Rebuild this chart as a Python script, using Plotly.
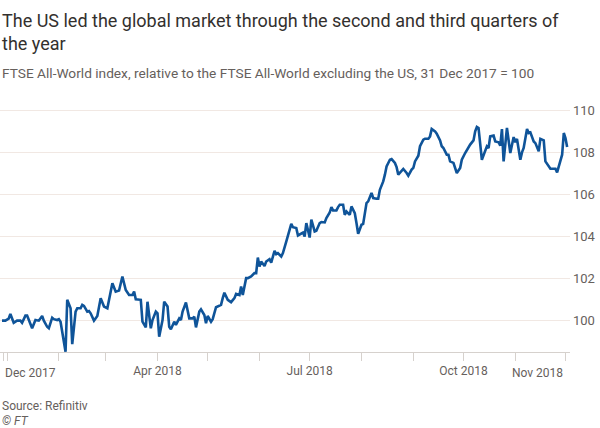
import plotly.graph_objects as go

dates = [
    "2017-12-29", "2017-12-31", "2018-01-02", "2018-01-03", "2018-01-05", "2018-01-07",
    "2018-01-09", "2018-01-10", "2018-01-12", "2018-01-13", "2018-01-15", "2018-01-16",
    "2018-01-18", "2018-01-19", "2018-01-20", "2018-01-22", "2018-01-23", "2018-01-25",
    "2018-01-26", "2018-01-28", "2018-01-29", "2018-01-31", "2018-02-01", "2018-02-02",
    "2018-02-05", "2018-02-06", "2018-02-08", "2018-02-09", "2018-02-11", "2018-02-12",
    "2018-02-14", "2018-02-15", "2018-02-16", "2018-02-18", "2018-02-19", "2018-02-20",
    "2018-02-22", "2018-02-24", "2018-02-26", "2018-02-28", "2018-03-02", "2018-03-05",
    "2018-03-07", "2018-03-09", "2018-03-11", "2018-03-13", "2018-03-15", "2018-03-17",
    "2018-03-18", "2018-03-19", "2018-03-21", "2018-03-22", "2018-03-23", "2018-03-25",
    "2018-03-26", "2018-03-28", "2018-03-29", "2018-03-31", "2018-04-01", "2018-04-02",
    "2018-04-04", "2018-04-05", "2018-04-07", "2018-04-08", "2018-04-09", "2018-04-11",
    "2018-04-12", "2018-04-14", "2018-04-15", "2018-04-16", "2018-04-18", "2018-04-19",
    "2018-04-20", "2018-04-22", "2018-04-23", "2018-04-24", "2018-04-26", "2018-04-27",
    "2018-04-29", "2018-04-30", "2018-05-01", "2018-05-03", "2018-05-04", "2018-05-06",
    "2018-05-07", "2018-05-09", "2018-05-10", "2018-05-11", "2018-05-13", "2018-05-15",
    "2018-05-17", "2018-05-18", "2018-05-20", "2018-05-21", "2018-05-22", "2018-05-24",
    "2018-05-25", "2018-05-27", "2018-05-29", "2018-05-30", "2018-05-31", "2018-06-01",
    "2018-06-02", "2018-06-04", "2018-06-05", "2018-06-07", "2018-06-08", "2018-06-10",
    "2018-06-11", "2018-06-12", "2018-06-14", "2018-06-15", "2018-06-17", "2018-06-18",
    "2018-06-20", "2018-06-21", "2018-06-23", "2018-06-24", "2018-06-27", "2018-06-28",
    "2018-06-29", "2018-07-01", "2018-07-02", "2018-07-04", "2018-07-05", "2018-07-07",
    "2018-07-08", "2018-07-10", "2018-07-11", "2018-07-13", "2018-07-14", "2018-07-15",
    "2018-07-17", "2018-07-18", "2018-07-19", "2018-07-21", "2018-07-22", "2018-07-23",
    "2018-07-25", "2018-07-26", "2018-07-28", "2018-07-29", "2018-07-30", "2018-08-01",
    "2018-08-02", "2018-08-04", "2018-08-05", "2018-08-07", "2018-08-08", "2018-08-10",
    "2018-08-11", "2018-08-12", "2018-08-14", "2018-08-15", "2018-08-16", "2018-08-18",
    "2018-08-19", "2018-08-21", "2018-08-22", "2018-08-23", "2018-08-25", "2018-08-26",
    "2018-08-28", "2018-08-29", "2018-08-31", "2018-09-01", "2018-09-02", "2018-09-04",
    "2018-09-05", "2018-09-07", "2018-09-08", "2018-09-10", "2018-09-11", "2018-09-12",
    "2018-09-14", "2018-09-15", "2018-09-17", "2018-09-18", "2018-09-19", "2018-09-21",
    "2018-09-22", "2018-09-23", "2018-09-25", "2018-09-26", "2018-09-27", "2018-09-29",
    "2018-09-30", "2018-10-02", "2018-10-04", "2018-10-05", "2018-10-07", "2018-10-08",
    "2018-10-09", "2018-10-10", "2018-10-12", "2018-10-13", "2018-10-15", "2018-10-16",
    "2018-10-17", "2018-10-19", "2018-10-20", "2018-10-22", "2018-10-23", "2018-10-24",
    "2018-10-25", "2018-10-27", "2018-10-28", "2018-10-29", "2018-10-31", "2018-11-01",
    "2018-11-02", "2018-11-04", "2018-11-05", "2018-11-06", "2018-11-08", "2018-11-09",
    "2018-11-10", "2018-11-12", "2018-11-13", "2018-11-15", "2018-11-16", "2018-11-18",
    "2018-11-19", "2018-11-21", "2018-11-22", "2018-11-24", "2018-11-25", "2018-11-26",
    "2018-11-28", "2018-11-29", "2018-11-30", "2018-12-01", "2018-12-02",
]

values = [
    100.00, 100.00, 100.10, 100.32, 99.90, 100.00,
    100.00, 99.90, 100.24, 100.24, 99.84, 99.64,
    100.03, 100.00, 100.00, 100.22, 100.00, 99.71,
    99.64, 100.14, 100.07, 100.03, 100.07, 99.95,
    98.52, 100.99, 100.59, 98.88, 100.43, 100.59,
    100.59, 100.75, 100.70, 100.43, 100.46, 100.35,
    100.00, 100.22, 101.07, 100.67, 100.59, 101.78,
    101.38, 101.43, 102.10, 101.46, 101.22, 101.22,
    101.38, 101.02, 101.02, 100.99, 99.95, 99.68,
    100.90, 99.64, 100.03, 100.43, 100.35, 99.24,
    100.03, 100.90, 100.67, 99.71, 99.59, 99.95,
    99.80, 100.11, 100.03, 100.43, 100.86, 100.51,
    100.11, 100.11, 100.19, 99.68, 100.43, 100.54,
    100.27, 99.88, 100.22, 99.95, 100.07, 100.64,
    100.67, 100.75, 101.07, 101.33, 100.99, 100.88,
    101.07, 101.27, 101.22, 101.62, 101.22, 102.02,
    102.02, 102.10, 102.26, 102.26, 103.00, 102.57,
    102.81, 102.60, 102.81, 102.92, 102.76, 103.32,
    103.16, 103.21, 103.05, 103.21, 103.76, 104.08,
    104.60, 104.44, 104.40, 104.05, 104.19, 104.00,
    104.64, 103.95, 104.80, 104.24, 104.27, 104.64,
    104.69, 104.67, 104.88, 105.14, 105.40, 105.24,
    105.24, 105.40, 105.51, 105.51, 105.03, 105.19,
    105.03, 105.43, 105.11, 104.64, 104.13, 104.56,
    104.60, 105.59, 105.67, 106.07, 105.83, 105.80,
    105.80, 106.22, 106.62, 106.94, 107.33, 107.65,
    107.68, 107.50, 107.30, 106.94, 107.10, 107.21,
    107.02, 106.89, 107.18, 107.26, 107.57, 107.84,
    108.29, 108.60, 108.65, 108.65, 108.76, 109.11,
    109.00, 108.89, 108.57, 108.29, 108.21, 107.89,
    107.89, 107.57, 107.50, 107.30, 107.02, 107.26,
    107.65, 107.97, 108.26, 108.37, 108.57, 109.00,
    109.21, 109.16, 107.65, 107.89, 108.29, 108.21,
    108.76, 108.80, 108.52, 108.48, 108.32, 109.11,
    107.57, 109.16, 108.60, 107.97, 108.73, 108.48,
    108.64, 107.65, 108.00, 108.21, 109.11, 108.92,
    108.95, 108.52, 108.44, 108.05, 108.64, 108.57,
    107.57, 107.30, 107.22, 107.22, 107.22, 107.05,
    107.57, 107.89, 108.92, 108.68, 108.26,
]

tick_dates = [
    "2017-12-30", "2018-01-01", "2018-02-01", "2018-03-01", "2018-04-01", "2018-05-01",
    "2018-06-01", "2018-07-01", "2018-08-01", "2018-09-01", "2018-10-01", "2018-11-01",
    "2018-12-01",
]
tick_labels = ["", "", "", "", "Apr 2018", "", "", "Jul 2018", "", "", "Oct 2018", "", ""]
y_ticks = [100, 102, 104, 106, 108, 110]

title = "The US led the global market through the second and third quarters of<br>the year"
subtitle = "FTSE All-World index, relative to the FTSE All-World excluding the US, 31 Dec 2017 = 100"
source = "Source: Refinitiv"

FONT = "Roboto"

fig = go.Figure()
fig.add_trace(go.Scatter(
    x=dates, y=values, mode="lines",
    line=dict(color="#0f5499", width=2.6),
    hoverinfo="skip", showlegend=False,
))

fig.update_layout(
    width=600, height=428,
    margin=dict(l=0, r=30, t=104, b=76),
    paper_bgcolor="white", plot_bgcolor="white",
    font=dict(family=FONT, color="#66605c", size=12),
    xaxis=dict(
        type="date",
        range=["2017-12-27 19:00", "2018-12-03 17:00"],
        tickvals=tick_dates, ticktext=tick_labels,
        ticks="outside", ticklen=8, tickcolor="#d6d1cd", tickwidth=1,
        showline=True, linecolor="#d6d1cd", linewidth=1,
        showgrid=False, zeroline=False,
        tickfont=dict(size=12, color="#66605c"),
    ),
    yaxis=dict(
        side="right",
        range=[98.51, 110.3],
        tickvals=y_ticks,
        showgrid=True, gridcolor="#f1e8e3", gridwidth=1,
        zeroline=False, showline=False, ticks="",
        ticklabelstandoff=2,
        tickfont=dict(size=13, color="#66605c"),
    ),
    annotations=[
        dict(text=title, xref="paper", yref="paper", x=0.0, y=1.387,
             xanchor="left", yanchor="top", align="left", showarrow=False,
             xshift=0, font=dict(family=FONT, size=18, color="#33302e")),
        dict(text=subtitle, xref="paper", yref="paper", x=0.0, y=1.125,
             xanchor="left", yanchor="middle", showarrow=False, xshift=0,
             font=dict(family=FONT, size=13.7, color="#66605c")),
        dict(text="Dec 2017", xref="x", yref="paper", x="2017-12-29 12:00", y=-0.0835,
             xanchor="left", yanchor="middle", showarrow=False,
             font=dict(family=FONT, size=12, color="#66605c")),
        dict(text="Nov 2018", xref="x", yref="paper", x="2018-12-01", y=-0.0835,
             xanchor="right", yanchor="middle", showarrow=False,
             font=dict(family=FONT, size=12, color="#66605c")),
        dict(text=source, xref="paper", yref="paper", x=0.0, y=-0.218,
             xanchor="left", yanchor="middle", showarrow=False,
             font=dict(family=FONT, size=12, color="#66605c")),
        dict(text="<i>© FT</i>", xref="paper", yref="paper", x=0.0, y=-0.278,
             xanchor="left", yanchor="middle", showarrow=False,
             font=dict(family=FONT, size=12, color="#66605c")),
    ],
)

fig.write_html(
    "out.html",
    config={"displayModeBar": False},
    post_script="document.body.style.margin='0';document.body.style.padding='0';",
)
